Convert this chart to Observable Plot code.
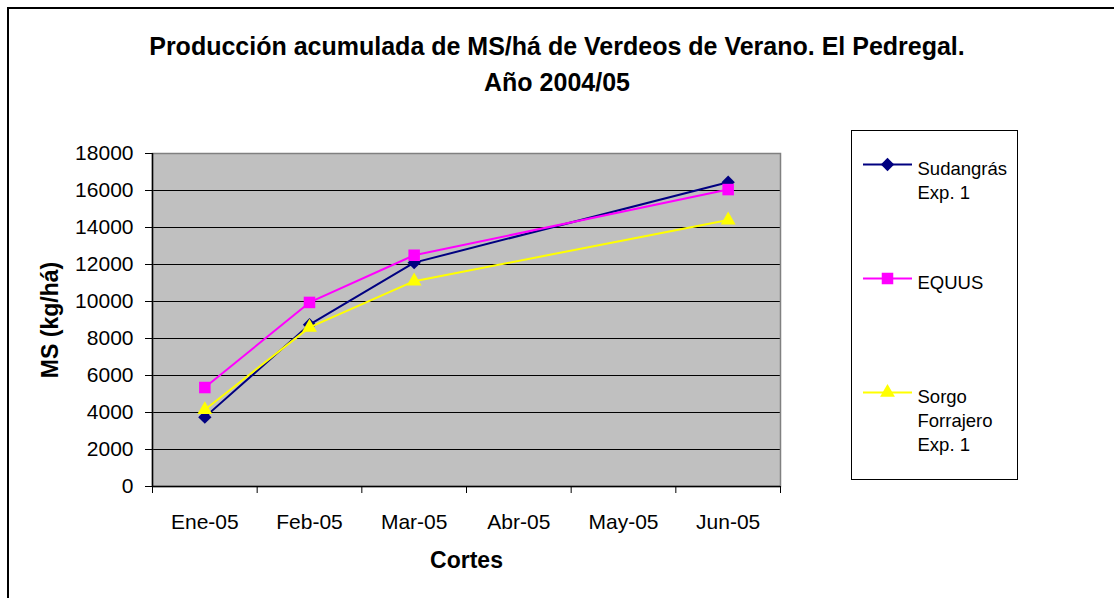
<!DOCTYPE html>
<html><head><meta charset="utf-8">
<script src="https://cdn.jsdelivr.net/npm/d3@7"></script>
<script src="https://cdn.jsdelivr.net/npm/@observablehq/plot@0.6"></script>
<style>
html,body{margin:0;padding:0;background:#fff;overflow:hidden}
#wrap{position:relative;width:1114px;height:598px;overflow:hidden;background:#fff;font-family:"Liberation Sans",Arial,sans-serif}
#border{position:absolute;left:7px;top:7px;width:1300px;height:800px;border-left:2px solid #000;border-top:2px solid #000}
#title{position:absolute;left:0;top:28px;width:1114px;text-align:center;font-weight:bold;font-size:25px;line-height:36px;color:#000}
#chart{position:absolute;left:0;top:0}
#legend{position:absolute;left:851px;top:130px}
#legend svg{border:1px solid #000;display:block}
</style></head><body>
<div id="wrap"><div id="border"></div><div id="title">Producción acumulada de MS/há de Verdeos de Verano. El Pedregal.<br>Año 2004/05</div><div id="chart"></div><div id="legend"></div></div>
<script>
const months = ["Ene-05", "Feb-05", "Mar-05", "Abr-05", "May-05", "Jun-05"];
const seriesNames = ["Sudangrás Exp. 1", "EQUUS", "Sorgo Forrajero Exp. 1"];
const legendLabels = ["Sudangrás\nExp. 1", "EQUUS", "Sorgo\nForrajero\nExp. 1"];
const sudangras = [3750, 8750, 12100, null, null, 16450];
const equus = [5350, 9950, 12500, null, null, 16050];
const sorgo = [4150, 8600, 11100, null, null, 14400];
const yTicks = [0, 2000, 4000, 6000, 8000, 10000, 12000, 14000, 16000, 18000];
const xLabel = "Cortes";
const yLabel = "MS (kg/há)";
const colors = ["#000080", "#FF00FF", "#FFFF00"];
const symbols = ["diamond2", "square", "triangle"];
const radii = [6, 6.5, 5.5];

const seriesValues = [sudangras, equus, sorgo];
const rows = seriesValues.flatMap((vals, s) => vals.map((v, i) => ({series: seriesNames[s], i, v}))).filter(d => d.v != null);
const boundaries = d3.range(months.length + 1).map(i => i - 0.5);

const seriesMarks = seriesNames.flatMap((name, s) => {
  const d = rows.filter(r => r.series === name);
  return [
    Plot.line(d, {x: "i", y: "v", stroke: colors[s], strokeWidth: 2}),
    Plot.dot(d, {x: "i", y: "v", symbol: () => symbols[s], r: radii[s], fill: colors[s], stroke: "none"})
  ];
});

const chart = Plot.plot({
  width: 800, height: 598,
  marginLeft: 152, marginRight: 20, marginTop: 153, marginBottom: 112,
  style: {fontFamily: "Liberation Sans, Arial, sans-serif", fontSize: "21px", color: "#000", background: "transparent", overflow: "visible"},
  x: {domain: [-0.5, months.length - 0.5], axis: null},
  y: {domain: [0, 18000], axis: null},
  symbol: {type: "identity"},
  marks: [
    Plot.frame({fill: "#c0c0c0", stroke: "none"}),
    Plot.gridY(yTicks.slice(1, -1), {stroke: "#000", strokeOpacity: 1, strokeWidth: 1}),
    Plot.frame({stroke: "#808080", strokeWidth: 1.5}),
    Plot.ruleX([-0.5], {stroke: "#000", strokeWidth: 1.5}),
    Plot.ruleY([0], {stroke: "#000", strokeWidth: 1.5}),
    Plot.axisY(yTicks, {tickSize: 7, tickPadding: 12, fontSize: 21, stroke: "#000", label: null, tickFormat: d => String(d)}),
    Plot.axisX(boundaries, {tickSize: 7, tickFormat: () => "", stroke: "#000", label: null}),
    Plot.axisX(d3.range(months.length), {tickSize: 0, tickPadding: 28, tickFormat: i => months[i], fontSize: 21, label: null}),
    ...seriesMarks,
    Plot.text([xLabel], {text: d => d, frameAnchor: "bottom", dy: 74, lineAnchor: "middle", fontWeight: "bold", fontSize: 23}),
    Plot.text([yLabel], {text: d => d, frameAnchor: "left", dx: -102, rotate: -90, textAnchor: "middle", lineAnchor: "middle", fontWeight: "bold", fontSize: 23})
  ]
});
document.getElementById("chart").appendChild(chart);

const legendRows = seriesNames.map((name, s) => ({name, label: legendLabels[s], color: colors[s], symbol: symbols[s], r: radii[s]}));
const legend = Plot.plot({
  width: 165, height: 348,
  margin: 0,
  style: {fontFamily: "Liberation Sans, Arial, sans-serif", fontSize: "18.5px", color: "#000", background: "#fff"},
  x: {type: "identity"},
  y: {type: "point", domain: seriesNames, range: [32, 261], padding: 0, axis: null},
  symbol: {type: "identity"},
  r: {type: "identity"},
  marks: [
    Plot.ruleY(legendRows, {y: "name", x1: 11, x2: 60, stroke: "color", strokeWidth: 2}),
    Plot.dot(legendRows, {y: "name", x: 35, symbol: "symbol", r: "r", fill: "color", stroke: "none"}),
    Plot.text(legendRows, {y: "name", x: 65, text: "label", textAnchor: "start", lineAnchor: "top", dy: -7, lineHeight: 1.3, fontSize: 18.5})
  ]
});
document.getElementById("legend").appendChild(legend);
</script>
</body></html>
